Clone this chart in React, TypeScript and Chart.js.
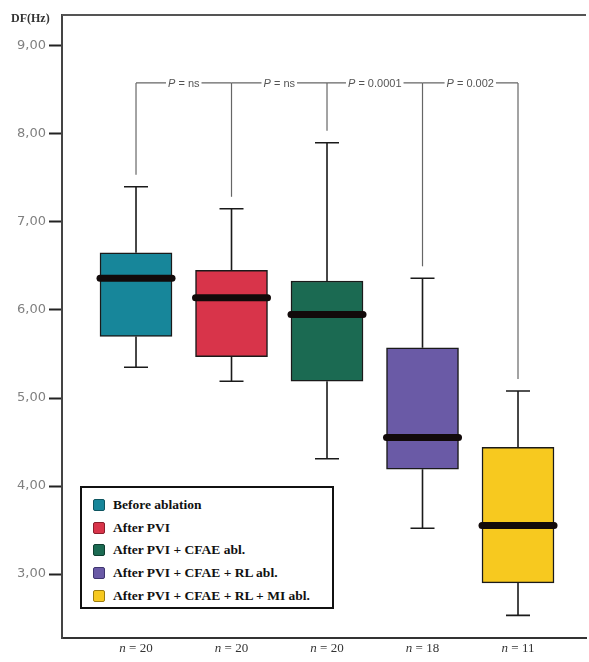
import React, { useEffect, useRef } from "react";
import { Chart, registerables } from "chart.js";

Chart.register(...registerables);

const groups = [
  "Before ablation",
  "After PVI",
  "After PVI + CFAE abl.",
  "After PVI + CFAE + RL abl.",
  "After PVI + CFAE + RL + MI abl.",
];
const groupX = [1, 2, 3, 4, 5];
const nCounts = [20, 20, 20, 18, 11];
const whiskerMin = [5.35, 5.19, 4.31, 3.52, 2.53];
const q1 = [5.7, 5.47, 5.19, 4.19, 2.9];
const medians = [6.36, 6.14, 5.95, 4.55, 3.55];
const q3 = [6.65, 6.45, 6.33, 5.57, 4.44];
const whiskerMax = [7.4, 7.15, 7.9, 6.36, 5.08];
const pLabels = ["ns", "ns", "0.0001", "0.002"];
const bracketLevel = 8.58;
const yTicks = [3, 4, 5, 6, 7, 8, 9];
const yTickLabels = ["3,00", "4,00", "5,00", "6,00", "7,00", "8,00", "9,00"];
const colors = ["#17869a", "#d8344a", "#1b6a52", "#6a5aa6", "#f7c91f"];
const borderColors = ["#0e5560", "#8a1e2c", "#0f3f30", "#3f3570", "#9c7d10"];

const overlayPlugin = {
  id: "boxOverlay",
  afterDatasetsDraw(chart: any) {
    const ctx = chart.ctx;
    const xs = chart.scales.x;
    const ys = chart.scales.y;
    const area = chart.chartArea;
    ctx.save();
    // top frame line
    ctx.strokeStyle = "#555";
    ctx.lineWidth = 2;
    ctx.beginPath();
    ctx.moveTo(area.left, area.top);
    ctx.lineTo(area.right, area.top);
    ctx.stroke();

    // whiskers & medians
    const half = 36;
    const cap = 12;
    groupX.forEach((gx, i) => {
      const px = xs.getPixelForValue(gx);
      ctx.strokeStyle = "#1a1a1a";
      ctx.lineWidth = 1.6;
      ctx.lineCap = "butt";
      ctx.beginPath();
      ctx.moveTo(px, ys.getPixelForValue(q3[i]));
      ctx.lineTo(px, ys.getPixelForValue(whiskerMax[i]));
      ctx.moveTo(px - cap, ys.getPixelForValue(whiskerMax[i]));
      ctx.lineTo(px + cap, ys.getPixelForValue(whiskerMax[i]));
      ctx.moveTo(px, ys.getPixelForValue(q1[i]));
      ctx.lineTo(px, ys.getPixelForValue(whiskerMin[i]));
      ctx.moveTo(px - cap, ys.getPixelForValue(whiskerMin[i]));
      ctx.lineTo(px + cap, ys.getPixelForValue(whiskerMin[i]));
      ctx.stroke();
      ctx.strokeStyle = "#120a0a";
      ctx.lineWidth = 7;
      ctx.lineCap = "round";
      ctx.beginPath();
      const my = ys.getPixelForValue(medians[i]);
      ctx.moveTo(px - half, my);
      ctx.lineTo(px + half, my);
      ctx.stroke();
    });

    // significance brackets
    const by = ys.getPixelForValue(bracketLevel);
    ctx.strokeStyle = "#666";
    ctx.lineWidth = 1.2;
    ctx.lineCap = "butt";
    groupX.forEach((gx, i) => {
      const px = xs.getPixelForValue(gx);
      ctx.beginPath();
      ctx.moveTo(px, by);
      ctx.lineTo(px, ys.getPixelForValue(whiskerMax[i]) - 12);
      ctx.stroke();
    });
    pLabels.forEach((lab, i) => {
      const x0 = xs.getPixelForValue(groupX[i]);
      const x1 = xs.getPixelForValue(groupX[i + 1]);
      const mid = (x0 + x1) / 2;
      ctx.font = "italic 11px 'Liberation Sans', sans-serif";
      const wP = ctx.measureText("P").width;
      ctx.font = "11px 'Liberation Sans', sans-serif";
      const rest = " = " + lab;
      const wR = ctx.measureText(rest).width;
      const tw = wP + wR;
      const sx = mid - tw / 2;
      ctx.beginPath();
      ctx.moveTo(x0, by);
      ctx.lineTo(sx - 2, by);
      ctx.moveTo(sx + tw + 2, by);
      ctx.lineTo(x1, by);
      ctx.stroke();
      ctx.fillStyle = "#555";
      ctx.textBaseline = "middle";
      ctx.textAlign = "left";
      ctx.font = "italic 11px 'Liberation Sans', sans-serif";
      ctx.fillText("P", sx, by + 1);
      ctx.font = "11px 'Liberation Sans', sans-serif";
      ctx.fillText(rest, sx + wP, by + 1);
    });

    // n labels
    ctx.fillStyle = "#333";
    ctx.textBaseline = "middle";
    groupX.forEach((gx, i) => {
      const px = xs.getPixelForValue(gx);
      ctx.font = "italic 13px 'Liberation Serif', serif";
      const wn = ctx.measureText("n").width;
      ctx.font = "13px 'Liberation Serif', serif";
      const rest = " = " + nCounts[i];
      const wr = ctx.measureText(rest).width;
      const sx = px - (wn + wr) / 2;
      ctx.textAlign = "left";
      ctx.font = "italic 13px 'Liberation Serif', serif";
      ctx.fillText("n", sx, area.bottom + 11);
      ctx.font = "13px 'Liberation Serif', serif";
      ctx.fillText(rest, sx + wn, area.bottom + 11);
    });

    // axis title
    ctx.fillStyle = "#333";
    ctx.font = "bold 12px 'Liberation Serif', serif";
    ctx.textAlign = "left";
    ctx.textBaseline = "alphabetic";
    ctx.fillText("DF(Hz)", 11, 22);
    ctx.restore();
  },
};

export default function App() {
  const ref = useRef<HTMLCanvasElement | null>(null);
  useEffect(() => {
    document.body.style.margin = "0";
    if (!ref.current) return;
    const chart = new Chart(ref.current, {
      type: "bar",
      data: {
        datasets: [
          {
            data: groupX.map((x, i) => ({ x, y: [q1[i], q3[i]] })) as any,
            backgroundColor: colors,
            borderColor: "#1a1a1a",
            borderWidth: 1.5,
            borderSkipped: false,
            barThickness: 72,
          },
        ],
      },
      options: {
        animation: false,
        responsive: false,
        maintainAspectRatio: false,
        layout: { padding: { top: 15, right: 3, bottom: 0, left: 0 } },
        plugins: { legend: { display: false }, tooltip: { enabled: false } },
        scales: {
          x: {
            type: "linear",
            offset: false,
            min: 0.225,
            max: 5.712,
            grid: { display: false },
            ticks: { display: false },
            border: { color: "#333", width: 2 },
            afterFit: (s: any) => {
              s.height = 24;
            },
          },
          y: {
            min: 2.273,
            max: 9.352,
            afterBuildTicks: (s: any) => {
              s.ticks = yTicks.map((v) => ({ value: v }));
            },
            afterFit: (s: any) => {
              s.width = 62;
            },
            grid: {
              drawOnChartArea: false,
              drawTicks: true,
              tickLength: 13,
              tickWidth: 2,
              tickColor: "#222",
            },
            border: { color: "#444", width: 2 },
            ticks: {
              color: "#808080",
              padding: 3,
              font: { family: "'DejaVu Sans', sans-serif", size: 13 },
              callback: (v: any) => {
                const i = yTicks.indexOf(Number(v));
                return i >= 0 ? yTickLabels[i] : "";
              },
            },
          },
        },
      },
      plugins: [overlayPlugin],
    });
    return () => chart.destroy();
  }, []);

  return (
    <div style={{ position: "relative", width: 589, height: 662, background: "#fff", overflow: "hidden" }}>
      <canvas ref={ref} width={589} height={662} style={{ display: "block" }} />
      <div
        style={{
          position: "absolute",
          left: 80,
          top: 486,
          width: 239,
          height: 113,
          border: "2px solid #111",
          background: "#fff",
          fontFamily: "'Liberation Serif', serif",
          fontWeight: "bold",
          fontSize: 13.5,
          color: "#111",
          padding: "6px 0 0 11px",
          boxSizing: "content-box",
        }}
      >
        {groups.map((g, i) => (
          <div key={g} style={{ display: "flex", alignItems: "center", height: 22.6, whiteSpace: "nowrap" }}>
            <span
              style={{
                display: "inline-block",
                width: 10,
                height: 10,
                background: colors[i],
                border: `1.5px solid ${borderColors[i]}`,
                borderRadius: 2,
                marginRight: 8,
                flexShrink: 0,
              }}
            />
            <span>{g}</span>
          </div>
        ))}
      </div>
    </div>
  );
}
